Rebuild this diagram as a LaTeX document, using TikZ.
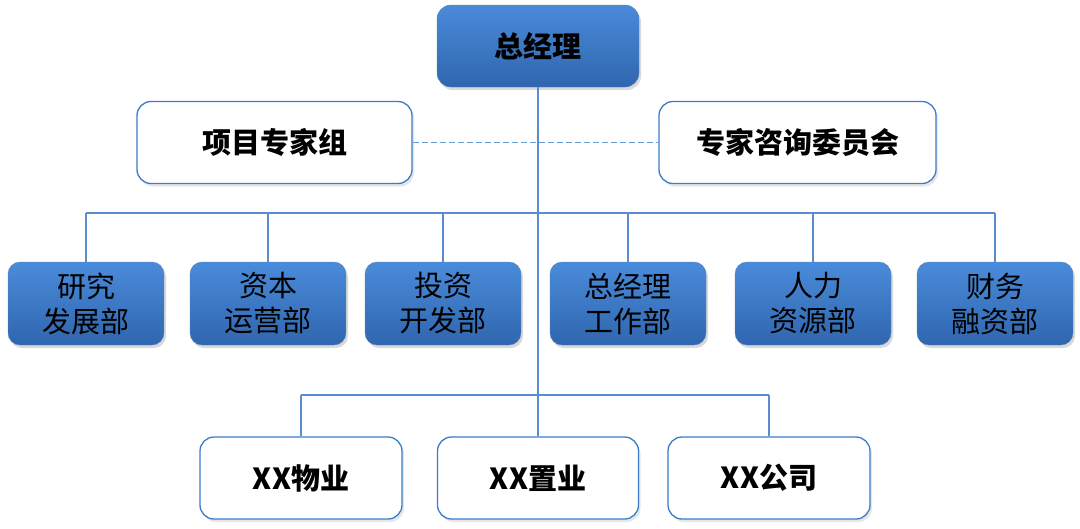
\documentclass[tikz,border=0pt]{standalone}
\usepackage{fontspec}
\newfontfamily\cjk{Noto Sans CJK SC}[BoldFont={Noto Sans CJK SC Black}]
\usetikzlibrary{shadows}
\definecolor{boxtop}{HTML}{4A8BDA}
\definecolor{boxbot}{HTML}{2F66AE}
\definecolor{rim}{HTML}{3A7DC9}
\definecolor{wire}{HTML}{5B8CCF}
\tikzset{
	topbox/.style={rounded corners=14pt, top color=boxtop, bottom color=boxbot, draw=boxbot!80, minimum width=202pt, minimum height=82pt, font=\cjk\bfseries\fontsize{29}{34}\selectfont, drop shadow={shadow xshift=2pt, shadow yshift=-3pt, opacity=.3}},
	deptbox/.style={rounded corners=12pt, top color=boxtop, bottom color=boxbot, draw=boxbot!80, minimum width=156pt, minimum height=83pt, align=center, font=\cjk\fontsize{29}{35}\selectfont, drop shadow={shadow xshift=2pt, shadow yshift=-3pt, opacity=.3}},
	groupbox/.style={rounded corners=14pt, fill=white, draw=rim, line width=1.3pt, minimum height=82pt, font=\cjk\bfseries\fontsize{29}{34}\selectfont, drop shadow={shadow xshift=2pt, shadow yshift=-3pt, opacity=.2}},
	wire/.style={draw=wire, line width=1.2pt}
}
\begin{document}
\begin{tikzpicture}[x=1pt, y=-1pt]
	\useasboundingbox (0,0) rectangle (1080,528);
	
	% bus lines
	\coordinate (busA) at (538,213);
	\coordinate (busB) at (538,395);
	
	\node[topbox] (gm) at (538,46){总经理};
	
	\node[groupbox, minimum width=275pt] (pg) at (274.5,142.5){项目专家组};
	\node[groupbox, minimum width=277pt] (cc) at (797.5,142.5){专家咨询委员会};
	
	\node[deptbox] (d1) at (86,303.5){研究\\发展部};
	\node[deptbox] (d2) at (268,303.5){资本\\运营部};
	\node[deptbox] (d3) at (443,303.5){投资\\开发部};
	\node[deptbox] (d4) at (628,303.5){总经理\\工作部};
	\node[deptbox] (d5) at (813,303.5){人力\\资源部};
	\node[deptbox] (d6) at (995,303.5){财务\\融资部};
	
	\node[groupbox, minimum width=202pt] (s1) at (301,478){XX物业};
	\node[groupbox, minimum width=201pt] (s2) at (538,478){XX置业};
	\node[groupbox, minimum width=202pt] (s3) at (769,478){XX公司};
	
	\draw[wire, line width=1.8pt, dash pattern=on 6pt off 3pt, draw=rim!75] (pg.east) -- (cc.west);
	\draw[wire] (gm.south) -- (s2.north);
	\draw[wire] (d1.north |- busA) -- (d6.north |- busA);
	\foreach \i in {1,...,6}
		\draw[wire] (d\i.north) -- (d\i.north |- busA);
	\draw[wire] (s1.north |- busB) -- (s3.north |- busB);
	\foreach \i in {1,3}
		\draw[wire] (s\i.north) -- (s\i.north |- busB);
\end{tikzpicture}
\end{document}
